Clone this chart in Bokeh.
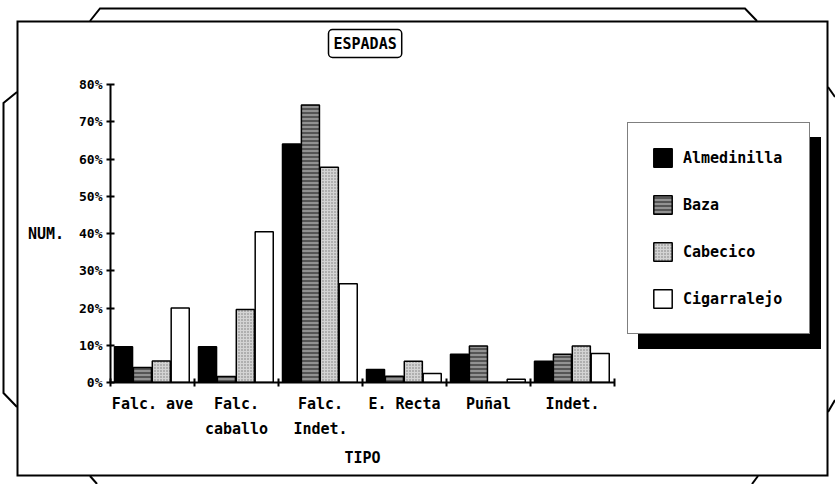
import numpy as np
from urllib.parse import quote
from bokeh.plotting import figure
from bokeh.models import (FixedTicker, PrintfTickFormatter, Legend, LegendItem,
                          Title, Range1d)
from bokeh.embed import file_html
from bokeh.resources import INLINE

# ---- data ----
categories = ["Falc. ave", "Falc.\ncaballo", "Falc.\nIndet.", "E. Recta", "Puñal", "Indet."]
series_names = ["Almedinilla", "Baza", "Cabecico", "Cigarralejo"]
almedinilla = [9.6, 9.6, 64.0, 3.5, 7.6, 5.7]
baza = [4.0, 1.6, 74.5, 1.7, 9.8, 7.6]
cabecico = [5.8, 19.6, 57.8, 5.7, 0.0, 9.8]
cigarralejo = [20.0, 40.5, 26.5, 2.4, 0.9, 7.8]
y_ticks = [0, 10, 20, 30, 40, 50, 60, 70, 80]

FONT = "DejaVu Sans Mono"
W, H = 835, 484
LEFT, TOP, BOTTOM = 110, 83, 102
CAT_PX = 84  # width of one category on screen

# decorative screen window + bezel, drawn behind a transparent canvas
bezel_svg = (
    "<svg xmlns='http://www.w3.org/2000/svg' width='835' height='484'>"
    "<g fill='none' stroke='black' stroke-width='2'>"
    "<rect x='17.5' y='21.5' width='810' height='454'/>"
    "<polyline points='90,21 100,8.5 745,8.5 757,21'/>"
    "<polyline points='17,92 3.5,103 3.5,393 17,407'/>"
    "<polyline points='828,87 835,97'/>"
    "<polyline points='835,400 828,412'/>"
    "<polyline points='90,476 97,484'/>"
    "<polyline points='752,484 758,476'/>"
    "</g></svg>")
bg_css = "url(\"data:image/svg+xml;utf8," + quote(bezel_svg) + "\") no-repeat 0 0, white"

p = figure(width=W, height=H, output_backend="svg", toolbar_location=None,
           x_range=Range1d(0, (W - LEFT) / CAT_PX), y_range=Range1d(0, 80),
           min_border_left=LEFT, min_border_right=0, min_border_top=TOP,
           min_border_bottom=BOTTOM)
p.styles = {"background": bg_css}
p.grid.visible = False
p.outline_line_color = None
p.background_fill_alpha = 0
p.border_fill_alpha = 0

idx = np.arange(len(categories))
offsets = [0.155, 0.38, 0.605, 0.83]
bar_w = 0.215
styles = [
    dict(fill_color="black"),
    dict(fill_color="#555555", hatch_pattern="horizontal_line", hatch_color="#cfcfcf",
         hatch_scale=4, hatch_weight=1),
    dict(fill_color="#d4d4d4", hatch_pattern="dot", hatch_color="#777777",
         hatch_scale=3, hatch_weight=1),
    dict(fill_color="white"),
]
renderers = []
for vals, off, st in zip([almedinilla, baza, cabecico, cigarralejo], offsets, styles):
    r = p.vbar(x=idx + off, top=vals, width=bar_w, bottom=0,
               line_color="black", line_width=1.5, **st)
    renderers.append(r)

# ---- axes ----
xa = p.xaxis[0]
xa.bounds = (0, len(categories))
xa.ticker = FixedTicker(ticks=list(idx + 0.5), minor_ticks=list(range(len(categories) + 1)))
xa.major_label_overrides = {float(i + 0.5): c for i, c in enumerate(categories)}
xa.major_tick_in = 0
xa.major_tick_out = 0
xa.minor_tick_in = 4
xa.minor_tick_out = 4
xa.minor_tick_line_width = 2
xa.minor_tick_line_color = "black"
xa.axis_line_width = 2
xa.major_label_standoff = 8
xa.major_label_text_font = FONT
xa.major_label_text_font_style = "bold"
xa.major_label_text_font_size = "15px"
xa.major_label_text_color = "black"
xa.major_label_text_line_height = 1.44

ya = p.yaxis[0]
ya.bounds = (0, 80)
ya.ticker = FixedTicker(ticks=y_ticks)
ya.formatter = PrintfTickFormatter(format="%d%%")
ya.major_tick_in = 4
ya.major_tick_out = 4
ya.major_tick_line_width = 2
ya.minor_tick_line_color = None
ya.axis_line_width = 2
ya.major_label_standoff = 4
ya.major_label_text_font = FONT
ya.major_label_text_font_style = "bold"
ya.major_label_text_font_size = "13px"
ya.major_label_text_color = "black"
ya.axis_label = "NUM."
ya.axis_label_orientation = "horizontal"
ya.axis_label_text_font = FONT
ya.axis_label_text_font_style = "bold"
ya.axis_label_text_font_size = "15px"
ya.axis_label_text_color = "black"
ya.axis_label_standoff = 12

# ---- titles ----
p.title = Title(text="ESPADAS", align="left", offset=218, text_font=FONT,
                text_font_style="bold", text_font_size="15px", text_color="black",
                border_line_color="black", border_line_width=1.5,
                background_fill_color="white", padding=5, border_radius=4,
                standoff=54)
p.add_layout(Title(text="TIPO", align="left", offset=234, text_font=FONT,
                   text_font_style="bold", text_font_size="15px", text_color="black",
                   standoff=10), "below")

# ---- legend with drop shadow ----
common = dict(spacing=24, glyph_width=23, glyph_height=23, label_height=23,
              label_width=103, label_standoff=9, padding=23, margin=0,
              label_text_font=FONT, label_text_font_style="bold",
              label_text_font_size="15px", border_line_width=1.5)
shadow = Legend(items=[LegendItem(label=" ", renderers=[renderers[0]]) for _ in series_names],
                location=(528, 33), background_fill_color="black", background_fill_alpha=1,
                border_line_color="black", label_text_color="black", **common)
legend = Legend(items=[LegendItem(label=n, renderers=[r]) for n, r in zip(series_names, renderers)],
                location=(517, 48), background_fill_color="white", background_fill_alpha=1,
                border_line_color="black", label_text_color="black", **common)
p.add_layout(shadow, "center")
p.add_layout(legend, "center")

open("out.html", "w").write(file_html(p, INLINE))
